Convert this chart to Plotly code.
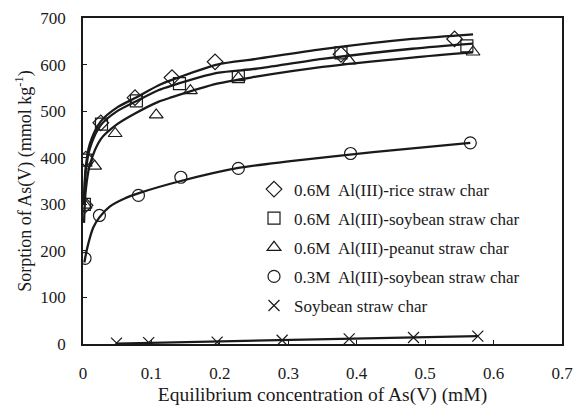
import plotly.graph_objects as go

# ---- data ----
rice_x = [0.003, 0.004, 0.026, 0.076, 0.130, 0.193, 0.377, 0.543]
rice_y = [298, 397, 475, 529, 572, 606, 622, 655]

soyAl_x = [0.002, 0.004, 0.027, 0.078, 0.141, 0.227, 0.377, 0.561]
soyAl_y = [300, 395, 472, 522, 559, 574, 625, 640]

peanut_x = [0.003, 0.017, 0.047, 0.107, 0.157, 0.227, 0.389, 0.570]
peanut_y = [298, 382, 452, 492, 544, 572, 608, 627]

soy03_x = [0.003, 0.024, 0.081, 0.143, 0.227, 0.391, 0.566]
soy03_y = [184, 276, 319, 358, 377, 409, 432]

soy_x = [0.049, 0.096, 0.196, 0.291, 0.389, 0.483, 0.577]
soy_y = [2, 3, 4, 8, 11, 14, 17]

# fitted curves
fit_x = [0.0015, 0.004, 0.010, 0.026, 0.050, 0.076, 0.110, 0.130, 0.196, 0.253, 0.350, 0.481, 0.570]
fit_rice_y = [310, 380, 430, 478, 508, 528, 555, 567, 600, 612, 633, 655, 665]
fit_soyAl_y = [300, 370, 420, 470, 500, 520, 545, 555, 582, 591, 612, 634, 645]
fit_peanut_y = [260, 330, 385, 440, 472, 495, 520, 530, 559, 574, 595, 615, 626]

fit03_x = [0.002, 0.006, 0.015, 0.024, 0.039, 0.060, 0.084, 0.143, 0.227, 0.300, 0.424, 0.566]
fit03_y = [175, 205, 250, 272, 295, 312, 325, 350, 378, 392, 412, 432]

fitsoy_x = [0.049, 0.577]
fitsoy_y = [1, 17]

labels = ["0.6M  Al(III)-rice straw char",
          "0.6M  Al(III)-soybean straw char",
          "0.6M  Al(III)-peanut straw char",
          "0.3M  Al(III)-soybean straw char",
          "Soybean straw char"]

x_ticks = [0, 0.1, 0.2, 0.3, 0.4, 0.5, 0.6, 0.7]
x_ticktext = ["0", "0.1", "0.2", "0.3", "0.4", "0.5", "0.6", "0.7"]
y_ticks = [0, 100, 200, 300, 400, 500, 600, 700]

FONT = "Liberation Serif"
INK = "#1a1a1a"

fig = go.Figure()

# fitted lines
for fx, fy in [(fit_x, fit_rice_y), (fit_x, fit_soyAl_y), (fit_x, fit_peanut_y),
               (fit03_x, fit03_y), (fitsoy_x, fitsoy_y)]:
    fig.add_trace(go.Scatter(x=fx, y=fy, mode="lines",
                             line=dict(color=INK, width=2.3, shape="spline", smoothing=0.8),
                             showlegend=False, hoverinfo="skip"))

# markers
series = [(rice_x, rice_y, "diamond-open", 12),
          (soyAl_x, soyAl_y, "square-open", 12),
          (peanut_x, peanut_y, "triangle-up-open", 12),
          (soy03_x, soy03_y, "circle-open", 12),
          (soy_x, soy_y, "x-thin-open", 11)]
for i, (sx, sy, sym, sz) in enumerate(series):
    fig.add_trace(go.Scatter(x=sx, y=sy, mode="markers", name=labels[i],
                             legendgroup=f"g{i}",
                             marker=dict(symbol=sym, size=sz, color=INK,
                                         line=dict(color=INK, width=1.2))))

fig.update_layout(
    width=582, height=415,
    margin=dict(l=83, r=9, t=17, b=71),
    paper_bgcolor="white", plot_bgcolor="white",
    font=dict(family=FONT, size=16, color=INK),
    legend=dict(x=0.357, y=0.529, xanchor="left", yanchor="top",
                bgcolor="rgba(0,0,0,0)", font=dict(family=FONT, size=17, color=INK),
                traceorder="grouped", tracegroupgap=4, itemwidth=30),
)
fig.update_xaxes(range=[0, 0.7], tickvals=x_ticks, ticktext=x_ticktext,
                 ticks="inside", ticklen=4, tickwidth=1.2, tickcolor=INK,
                 showline=True, linecolor=INK, linewidth=1.5, mirror=True,
                 showgrid=False, zeroline=False, ticklabelstandoff=13,
                 ticklabeloverflow="allow",
                 tickfont=dict(family=FONT, size=17, color=INK),
                 title=dict(text="Equilibrium concentration of As(V) (mM)",
                            font=dict(family=FONT, size=19.5, color=INK), standoff=5))
fig.update_yaxes(range=[0, 700], tickvals=y_ticks,
                 ticks="inside", ticklen=4, tickwidth=1.2, tickcolor=INK,
                 showline=True, linecolor=INK, linewidth=1.5, mirror=True,
                 showgrid=False, zeroline=False, ticklabelstandoff=12,
                 tickfont=dict(family=FONT, size=17, color=INK),
                 title=dict(text="Sorption of As(V) (mmol kg<sup>-1</sup>)",
                            font=dict(family=FONT, size=18, color=INK), standoff=4))

fig.write_html("out.html")
